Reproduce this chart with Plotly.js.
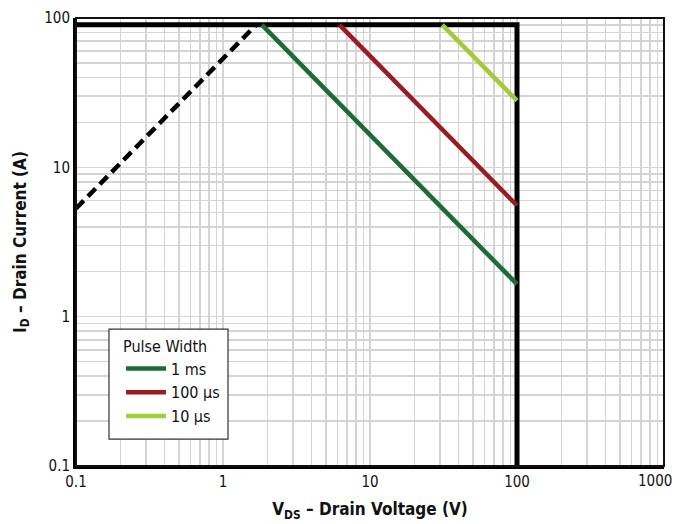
<!DOCTYPE html>
<html>
<head>
<meta charset="utf-8">
<script src="https://cdn.plot.ly/plotly-3.0.1.min.js"></script>
<style>
html,body{margin:0;padding:0;background:#fff;}
#chart{width:676px;height:524px;}
</style>
</head>
<body>
<div id="chart"></div>
<script>
// Data
const limitV = [0.1, 100, 100];
const limitI = [90, 90, 0.1];
const rdsV = [0.1, 1.68];
const rdsI = [5.3, 90];
const ms1V = [1.84, 100];
const ms1I = [90, 1.65];
const us100V = [6.2, 100];
const us100I = [90, 5.55];
const us10V = [31, 100];
const us10I = [90, 28];
const seriesNames = ['1 ms', '100 µs', '10 µs'];
const tickVals = [0.1, 1, 10, 100];
const tickText = ['0.1', '1', '10', '100'];
const lastTickVal = 1000;
const lastTickText = '1000';
const yTickVals = [0.1, 1, 10, 100];
const yTickText = ['0.1', '1', '10', '100'];

const FONT = '"Liberation Sans Narrow", "DejaVu Sans Condensed", "Liberation Sans", sans-serif';

const traces = [
  {x: limitV, y: limitI, mode: 'lines', line: {color: '#000', width: 5}, showlegend: false, hoverinfo: 'skip'},
  {x: rdsV, y: rdsI, mode: 'lines', line: {color: '#000', width: 4.5, dash: '11px,6px'}, showlegend: false},
  {x: ms1V, y: ms1I, mode: 'lines', name: seriesNames[0], line: {color: '#1d6b36', width: 4.5}},
  {x: us100V, y: us100I, mode: 'lines', name: seriesNames[1], line: {color: '#9b1b20', width: 4.5}},
  {x: us10V, y: us10I, mode: 'lines', name: seriesNames[2], line: {color: '#9fcd3a', width: 4.5}}
];

const gridC = '#d4d4d4';
const layout = {
  width: 676, height: 524,
  margin: {l: 76, r: 12, t: 18, b: 58},
  paper_bgcolor: '#fff', plot_bgcolor: '#fff',
  font: {family: FONT, size: 15, color: '#111'},
  showlegend: true,
  legend: {
    x: 0.0765, y: 0.302, xanchor: 'left', yanchor: 'top',
    bgcolor: 'rgba(0,0,0,0)', borderwidth: 0,
    title: {text: 'Pulse Width', font: {family: FONT, size: 16}},
    font: {family: FONT, size: 16},
    tracegroupgap: 0, itemwidth: 40
  },
  xaxis: {
    type: 'log', range: [-1, 3],
    tickvals: tickVals, ticktext: tickText, ticks: '',
    showgrid: true, gridcolor: gridC, gridwidth: 1.5,
    minor: {showgrid: true, gridcolor: gridC, gridwidth: 1.5, dtick: 'D1'},
    showline: true, linecolor: '#000', linewidth: 3,
    zeroline: false,
    tickfont: {family: FONT, size: 15},
    title: {text: '<b>V<sub>DS</sub> – Drain Voltage (V)</b>', font: {family: FONT, size: 17}, standoff: 14}
  },
  yaxis: {
    type: 'log', range: [-1, 2],
    tickvals: yTickVals, ticktext: yTickText, ticks: '',
    showgrid: true, gridcolor: gridC, gridwidth: 1.5,
    minor: {showgrid: true, gridcolor: gridC, gridwidth: 1.5, dtick: 'D1'},
    showline: true, linecolor: '#000', linewidth: 3,
    zeroline: false,
    tickfont: {family: FONT, size: 15},
    title: {text: '<b>I<sub>D</sub> – Drain Current (A)</b>', font: {family: FONT, size: 17}, standoff: 14}
  },
  annotations: [
    {x: Math.log10(lastTickVal), xref: 'x', y: 0, yref: 'paper', text: lastTickText,
     showarrow: false, xanchor: 'right', yanchor: 'top', xshift: 10, yshift: -4,
     font: {family: FONT, size: 15, color: '#111'}}
  ],
  shapes: [
    {type: 'rect', xref: 'paper', yref: 'paper', x0: 0, x1: 1, y0: 0, y1: 1, line: {color: '#111', width: 2}, layer: 'above'},
    {type: 'rect', xref: 'paper', yref: 'paper', x0: 0.0561, x1: 0.2585, y0: 0.0602, y1: 0.3055,
     fillcolor: '#fff', line: {color: '#333', width: 1.2}, layer: 'above'}
  ]
};

Plotly.newPlot('chart', traces, layout, {displayModeBar: false, staticPlot: true});
</script>
</body>
</html>
